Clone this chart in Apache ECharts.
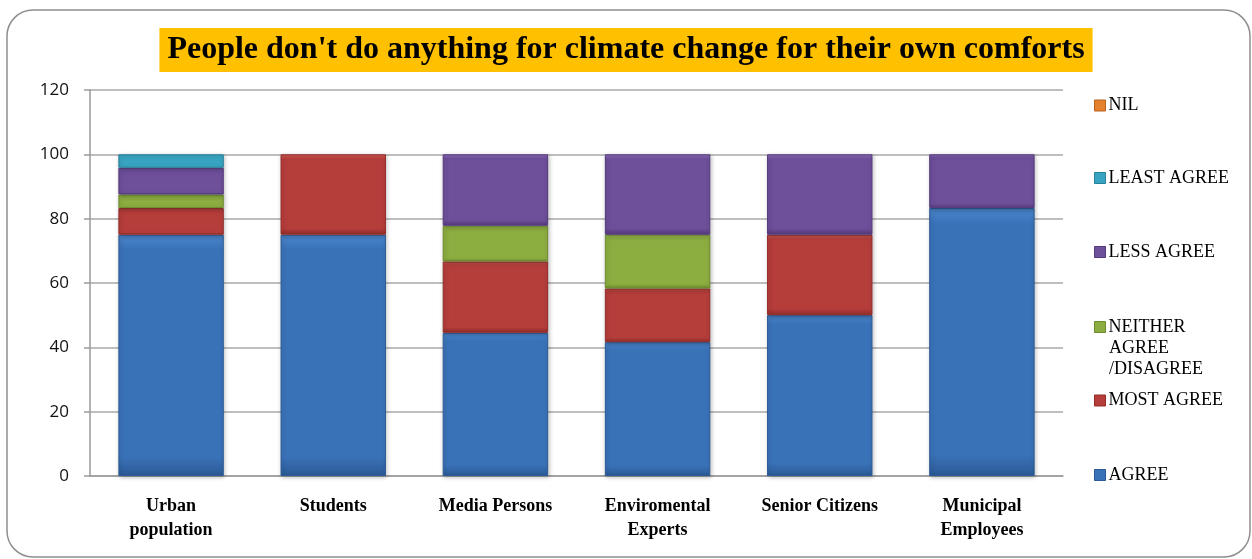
<!DOCTYPE html>
<html>
<head>
<meta charset="utf-8">
<script src="https://cdn.jsdelivr.net/npm/echarts@6/dist/echarts.min.js"></script>
<style>
html,body{margin:0;padding:0;background:#fff;}
#chart{width:1252px;height:559px;}
</style>
</head>
<body>
<div id="chart"></div>
<script>
var titleText = "People don't do anything for climate change for their own comforts";
var categories = ['Urban\npopulation', 'Students', 'Media Persons', 'Enviromental\nExperts', 'Senior Citizens', 'Municipal\nEmployees'];
var yTicks = [0, 20, 40, 60, 80, 100, 120];
var seriesNames = ['AGREE', 'MOST AGREE', 'NEITHER AGREE /DISAGREE', 'LESS AGREE', 'LEAST AGREE', 'NIL'];
var agree      = [75, 75, 44.5, 41.6, 50, 83.3];
var mostAgree  = [8.3, 25, 22.2, 16.7, 25, 0];
var neither    = [4.2, 0, 11.1, 16.7, 0, 0];
var lessAgree  = [8.3, 0, 22.2, 25, 25, 16.7];
var leastAgree = [4.2, 0, 0, 0, 0, 0];
var nil        = [0, 0, 0, 0, 0, 0];

var values = [agree, mostAgree, neither, lessAgree, leastAgree, nil];
var palette = [
  ['#4a86cc', '#3a72b8', '#2b5a96'],
  ['#d25a55', '#b53d3a', '#932c2a'],
  ['#a9cc5a', '#8cad40', '#6f8c2e'],
  ['#8c6cbc', '#6d4f9a', '#553a7c'],
  ['#5ec3dd', '#38a4c2', '#27819a'],
  ['#f7a050', '#e4812c', '#b8621c']
];

function fill(c) {
  return new echarts.graphic.LinearGradient(0, 0, 0, 1, [
    {offset: 0, color: c[0]},
    {offset: 0.06, color: c[1]},
    {offset: 0.92, color: c[1]},
    {offset: 1, color: c[2]}
  ]);
}

var series = seriesNames.map(function (name, i) {
  return {
    name: name,
    type: 'bar',
    stack: 'total',
    barWidth: '65%',
    data: values[i].map(function (v) { return v === 0 ? null : v; }),
    itemStyle: {
      color: fill(palette[i]),
      borderColor: palette[i][2],
      borderWidth: 1,
      shadowBlur: 4,
      shadowColor: 'rgba(0,0,0,0.25)',
      shadowOffsetX: 1,
      shadowOffsetY: 1
    }
  };
});

var legendCenters = {
  'NIL': 105.5,
  'LEAST AGREE': 178,
  'LESS AGREE': 252,
  'NEITHER AGREE /DISAGREE': 327,
  'MOST AGREE': 400.5,
  'AGREE': 475
};
var legendFont = '"Liberation Serif", "Times New Roman", serif';

var legends = seriesNames.map(function (name, i) {
  return {
    data: [{name: name, icon: 'rect', itemStyle: {color: fill(palette[i]), borderColor: palette[i][2], borderWidth: 1}}],
    left: 1094,
    top: legendCenters[name] - 11,
    orient: 'vertical',
    padding: 0,
    itemWidth: 11,
    itemHeight: 11,
    itemGap: 0,
    selectedMode: false,
    formatter: function (n) { return n === 'NEITHER AGREE /DISAGREE' ? 'NEITHER' : n; },
    textStyle: {
      fontFamily: legendFont,
      fontSize: 18,
      color: '#000',
      lineHeight: 22,
      padding: [0, 0, 0, -2]
    }
  };
});

var chart = echarts.init(document.getElementById('chart'));
chart.setOption({
  backgroundColor: '#fff',
  animation: false,
  title: {
    text: titleText,
    left: 'center',
    top: 28,
    padding: [5, 8, 5, 8],
    backgroundColor: '#ffc000',
    textStyle: {
      fontFamily: '"Liberation Serif", "Times New Roman", serif',
      fontWeight: 'bold',
      fontSize: 32,
      color: '#000',
      lineHeight: 34
    }
  },
  graphic: [{
    type: 'rect',
    shape: {x: 7, y: 10, width: 1243, height: 547, r: 26},
    style: {fill: 'none', stroke: '#8f8f8f', lineWidth: 1.5},
    silent: true,
    z: -1
  }, {
    type: 'text',
    left: 1109,
    top: 338,
    style: {
      text: 'AGREE\n/DISAGREE',
      font: '18px ' + legendFont,
      fill: '#000',
      lineHeight: 21
    },
    silent: true
  }],
  legend: legends,
  grid: {left: 90, right: 189, top: 90, bottom: 83},
  xAxis: {
    type: 'category',
    data: categories,
    axisLine: {show: true, lineStyle: {color: '#9a9a9a', width: 1.5}},
    axisTick: {show: false},
    axisLabel: {
      interval: 0,
      margin: 18,
      fontFamily: '"Liberation Serif", "Times New Roman", serif',
      fontWeight: 'bold',
      fontSize: 18,
      lineHeight: 24,
      color: '#000'
    }
  },
  yAxis: {
    type: 'value',
    min: yTicks[0],
    max: yTicks[yTicks.length - 1],
    interval: yTicks[1] - yTicks[0],
    axisLine: {show: true, lineStyle: {color: '#9a9a9a', width: 1.5}},
    axisTick: {show: true, length: 6, lineStyle: {color: '#9a9a9a', width: 1.5}},
    axisLabel: {
      margin: 21,
      fontFamily: '"Open Sans", "Noto Sans", sans-serif',
      fontSize: 17,
      color: '#111'
    },
    splitLine: {show: true, lineStyle: {color: '#a8a8a8', width: 1.5}}
  },
  series: series
});
</script>
</body>
</html>
